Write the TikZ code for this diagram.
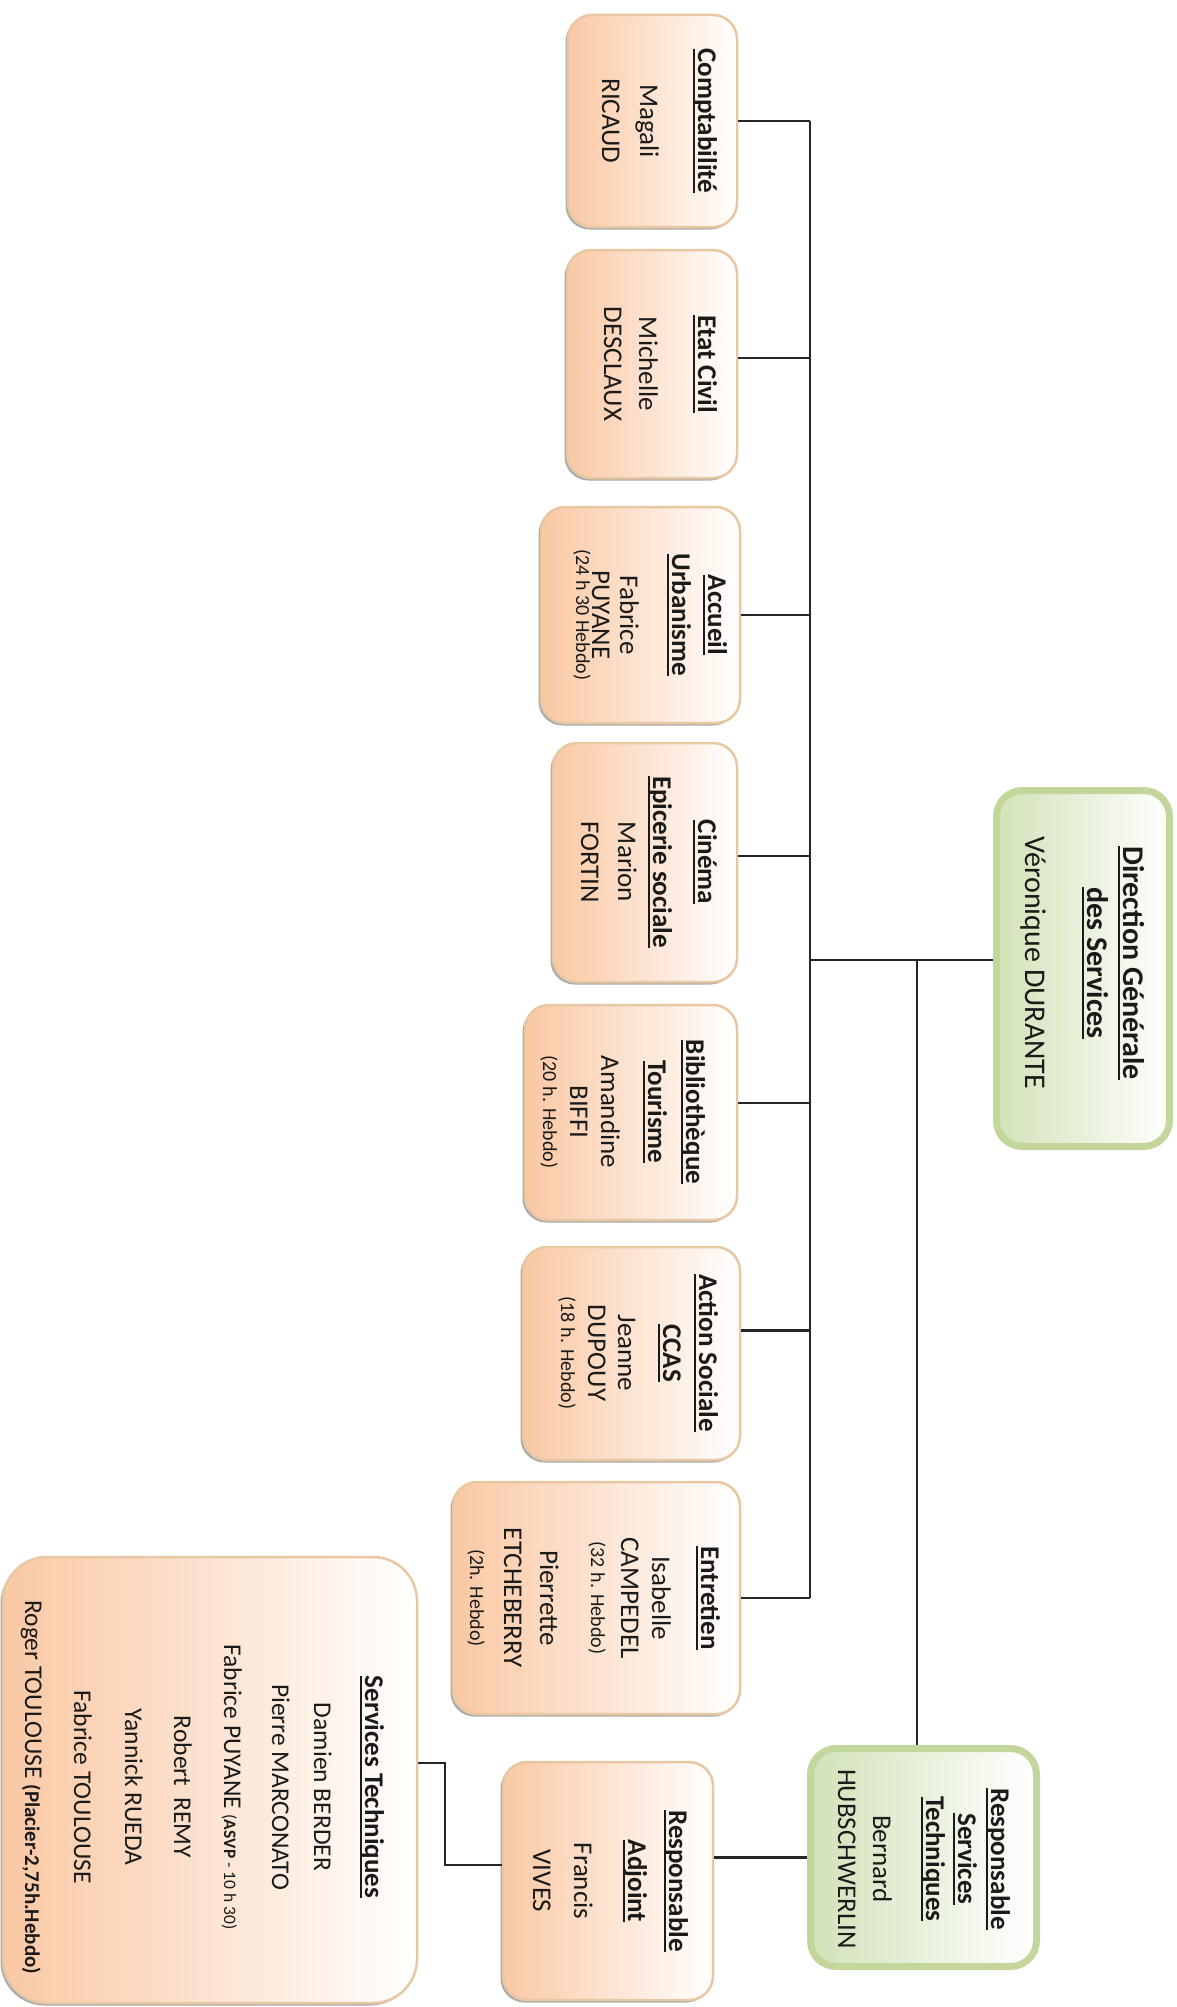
\documentclass[tikz,border=0pt]{standalone}
\usepackage{fontspec}
\setmainfont{Carlito}
\usetikzlibrary{shadows}
\definecolor{peach}{HTML}{FAC8A4}
\definecolor{peachborder}{HTML}{E8C8A2}
\definecolor{greenborder}{HTML}{C3D69B}
\definecolor{greenfill}{HTML}{D2E2B8}
\definecolor{txt}{HTML}{1A1A1A}
\newcommand\ulx[1]{\leavevmode\setbox0=\hbox{#1}\rlap{\rule[-0.17em]{\wd0}{0.075em}}\box0}
\newcommand\fa{\fontsize{27}{32}\selectfont}
\newcommand\fsm{\fontsize{20}{24}\selectfont}
\newcommand\fdg{\fontsize{30}{36}\selectfont}
\newcommand\fst{\fontsize{25.5}{30}\selectfont}
\begin{document}
\begin{tikzpicture}[x=1pt,y=-1pt,
  shd/.style={drop shadow={shadow xshift=-2.5pt,shadow yshift=-2.5pt,opacity=.55,fill=black!60}},
  obox/.style={rectangle,rounded corners=24pt,draw=peachborder,line width=2.5pt,
    left color=peach,middle color=peach!65!white,right color=white,inner sep=0pt,shd},
  gbox/.style={rectangle,rounded corners=26pt,draw=greenborder,line width=7pt,
    left color=greenfill,middle color=greenfill!55!white,right color=white,inner sep=0pt,shd},
  ln/.style={rotate=-90,anchor=base,inner sep=0pt,text=txt,font=\fa},
  ttl/.style={ln,font=\fa\bfseries},
  sm/.style={ln,font=\fsm},
  link/.style={line width=2.2pt,draw=black!85}]
\useasboundingbox[fill=white] (0,0) rectangle (1177,2007);

% ---------- boxes ----------
\node[obox,minimum width=169pt,minimum height=212pt] (comp) at (652.5,121) {};
\node[obox,minimum width=170pt,minimum height=228pt] (etat) at (652,364) {};
\node[obox,minimum width=199pt,minimum height=216pt] (accu) at (640.5,615) {};
\node[obox,minimum width=184pt,minimum height=239pt] (cine) at (645,862.5) {};
\node[obox,minimum width=212pt,minimum height=215pt] (bibl) at (631,1112.5) {};
\node[obox,minimum width=217pt,minimum height=213pt] (acti) at (631.5,1353.5) {};
\node[obox,minimum width=287pt,minimum height=232pt] (entr) at (596.5,1598) {};
\node[obox,minimum width=210pt,minimum height=238pt] (adj) at (608,1881) {};
\node[obox,rounded corners=44pt,minimum width=414pt,minimum height=446pt] (st) at (210,1780) {};
\node[gbox,minimum width=226pt,minimum height=218pt] (rst) at (923.5,1857.5) {};
\node[gbox,minimum width=173pt,minimum height=356pt] (dg) at (1083,968.5) {};

% ---------- connectors ----------
\coordinate (bus) at (810,960);
\coordinate (tee) at (917,960);
\coordinate (elbow) at (445,1763);
\path ([yshift=6pt]etat.east) coordinate (etatc)
      ([yshift=6.5pt]cine.east) coordinate (cinec)
      ([yshift=9.5pt]bibl.east) coordinate (biblc)
      ([yshift=23pt]acti.east) coordinate (actic)
      ([yshift=16pt]adj.west) coordinate (adjc);
\draw[link] (comp.east -| bus) -- (entr.east -| bus);
\draw[link] (comp.east) -- (comp.east -| bus);
\draw[link] (etatc) -- (etatc -| bus);
\draw[link] (accu.east) -- (accu.east -| bus);
\draw[link] (cinec) -- (cinec -| bus);
\draw[link] (biblc) -- (biblc -| bus);
\draw[link] (actic) -- (actic -| bus);
\draw[link] (entr.east) -- (entr.east -| bus);
\draw[link] (dg.west |- bus) -- (bus);
\draw[link] (tee) -- (tee |- rst.north);
\draw[link] (rst.west) -- (rst.west -| adj.east);
\draw[link] (adjc) -| (elbow) -- (elbow -| st.east);

% ---------- texts ----------
\node[ttl] (comp-1) at (698,121) {\ulx{Comptabilité}};
\node[ln]  (comp-2) at (640,121) {Magali};
\node[ln]  (comp-3) at (602,121) {RICAUD};

\node[ttl] (etat-1) at (698,364) {\ulx{Etat Civil}};
\node[ln]  (etat-2) at (639,364) {Michelle};
\node[ln]  (etat-3) at (604,364) {DESCLAUX};

\node[ttl] (accu-1) at (708,615) {\ulx{Accueil}};
\node[ttl] (accu-2) at (672,615) {\ulx{Urbanisme}};
\node[ln]  (accu-3) at (620,615) {Fabrice};
\node[ln]  (accu-4) at (592,615) {PUYANE};
\node[sm]  (accu-5) at (576,615) {(24 h 30 Hebdo)};

\node[ttl] (cine-1) at (698,862) {\ulx{Cinéma}};
\node[ttl] (cine-2) at (653,862) {\ulx{Epicerie sociale}};
\node[ln]  (cine-3) at (618,862) {Marion};
\node[ln]  (cine-4) at (581,862) {FORTIN};

\node[ttl] (bibl-1) at (686,1112) {\ulx{Bibliothèque}};
\node[ttl] (bibl-2) at (648,1112) {\ulx{Tourisme}};
\node[ln]  (bibl-3) at (601,1112) {Amandine};
\node[ln]  (bibl-4) at (570,1112) {BIFFI};
\node[sm]  (bibl-5) at (543,1112) {(20 h. Hebdo)};

\node[ttl] (acti-1) at (699,1353) {\ulx{Action Sociale}};
\node[ttl] (acti-2) at (663,1353) {\ulx{CCAS}};
\node[ln]  (acti-3) at (618,1353) {Jeanne};
\node[ln]  (acti-4) at (588,1353) {DUPOUY};
\node[sm]  (acti-5) at (561,1353) {(18 h. Hebdo)};

\node[ttl] (entr-1) at (701,1598) {\ulx{Entretien}};
\node[ln]  (entr-2) at (652,1598) {Isabelle};
\node[ln]  (entr-3) at (621,1598) {CAMPEDEL};
\node[sm]  (entr-4) at (591,1598) {(32 h. Hebdo)};
\node[ln]  (entr-5) at (540,1598) {Pierrette};
\node[ln]  (entr-6) at (504,1598) {ETCHEBERRY};
\node[sm]  (entr-7) at (470,1598) {(2h. Hebdo)};

\node[ttl] (adj-1) at (669,1881) {\ulx{Responsable}};
\node[ttl] (adj-2) at (628,1881) {\ulx{Adjoint}};
\node[ln]  (adj-3) at (574,1881) {Francis};
\node[ln]  (adj-4) at (533,1881) {VIVES};

\node[ttl] (rst-1) at (991,1859) {\ulx{Responsable}};
\node[ttl] (rst-2) at (958,1859) {\ulx{Services}};
\node[ttl] (rst-3) at (926,1859) {\ulx{Techniques}};
\node[ln]  (rst-4) at (873,1859) {Bernard};
\node[ln]  (rst-5) at (838,1859) {HUBSCHWERLIN};

\node[ttl,font=\fdg\bfseries] (dg-1) at (1123,963) {\ulx{Direction Générale}};
\node[ttl,font=\fdg\bfseries] (dg-2) at (1087,963) {\ulx{des Services}};
\node[ln,font=\fdg] (dg-3) at (1025,963) {Véronique DURANTE};

\node[ttl] (st-1) at (365,1787) {\ulx{Services Techniques}};
\node[ln,font=\fst] (st-2) at (314,1787) {Damien BERDER};
\node[ln,font=\fst] (st-3) at (272,1787) {Pierre MARCONATO};
\node[ln,font=\fst] (st-4) at (224,1787) {Fabrice PUYANE {\fontsize{17.5}{20}\selectfont(\textbf{ASVP} - 10 h 30)}};
\node[ln,font=\fst] (st-5) at (174,1787) {Robert\ \ REMY};
\node[ln,font=\fst] (st-6) at (125,1787) {Yannick RUEDA};
\node[ln,font=\fst] (st-7) at (74,1787) {Fabrice TOULOUSE};
\node[ln,font=\fst] (st-8) at (25,1787) {Roger TOULOUSE {\fontsize{21}{24}\selectfont\bfseries(Placier-2,75h.Hebdo)}};
\end{tikzpicture}
\end{document}
